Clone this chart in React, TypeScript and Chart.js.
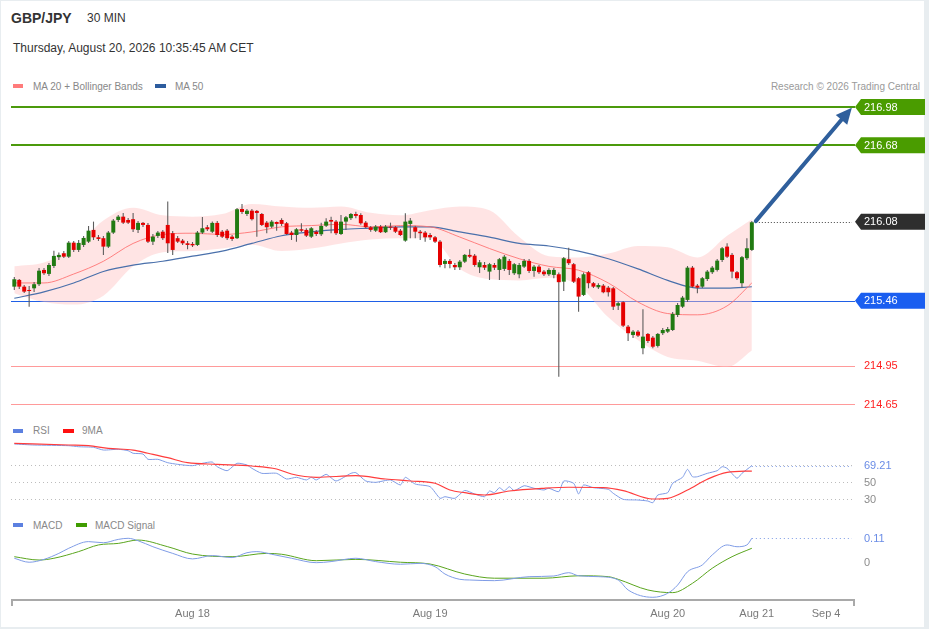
import React, { useEffect, useRef } from "react";
import { Chart, registerables } from "chart.js";

Chart.register(...registerables);

const FONT = '"Liberation Sans", Arial, Helvetica, sans-serif';

// ---------- price candles (30 min) ----------
const candleOpen = [
  215.571, 215.624, 215.571, 215.545, 215.558, 215.59, 215.702, 215.671, 215.733, 215.802,
  215.833, 215.806, 215.916, 215.859, 215.898, 215.924, 216.016, 215.958, 215.951, 215.885,
  215.995, 216.094, 216.12, 216.094, 216.1, 216.016, 216.071, 216.055, 215.924, 215.969,
  216.002, 216.055, 215.99, 215.951, 215.932, 215.911, 215.906, 215.898, 215.995, 216.037,
  216.002, 216.071, 216.002, 216.01, 215.963, 215.951, 216.18, 216.141, 216.167, 216.165,
  216.141, 216.073, 216.042, 216.078, 216.094, 216.068, 215.995, 215.976, 216.021, 216.016,
  215.963, 216.002, 215.982, 216.049, 216.094, 216.081, 215.984, 216.081, 216.108, 216.141,
  216.133, 216.073, 216.037, 216.01, 216.042, 215.998, 216.042, 216.037, 216.01, 215.932,
  216.063, 216.037, 216.002, 215.995, 215.976, 215.958, 215.924, 215.749, 215.773, 215.741,
  215.723, 215.767, 215.82, 215.814, 215.723, 215.741, 215.689, 215.741, 215.702, 215.71,
  215.773, 215.676, 215.668, 215.728, 215.773, 215.694, 215.728, 215.689, 215.668, 215.663,
  215.668, 215.61, 215.786, 215.747, 215.637, 215.506, 215.684, 215.598, 215.566, 215.579,
  215.563, 215.558, 215.422, 215.449, 215.257, 215.192, 215.218, 215.088, 215.2, 215.171,
  215.106, 215.206, 215.218, 215.231, 215.349, 215.414, 215.467, 215.72, 215.579, 215.571,
  215.631, 215.684, 215.702, 215.78, 215.885, 215.82, 215.684, 215.598, 215.794, 215.859,
];
const candleHigh = [
  215.647, 215.631, 215.584, 215.577, 215.608, 215.718, 215.718, 215.757, 215.853, 215.838,
  215.851, 215.929, 215.929, 215.937, 215.969, 216.047, 216.081, 215.976, 215.969, 216.008,
  216.102, 216.133, 216.149, 216.11, 216.149, 216.086, 216.078, 216.071, 215.984, 216.008,
  216.016, 216.238, 216.008, 215.969, 215.945, 215.929, 215.921, 216.008, 216.118, 216.055,
  216.081, 216.086, 216.016, 216.024, 215.976, 216.188, 216.22, 216.18, 216.18, 216.173,
  216.149, 216.086, 216.094, 216.082, 216.108, 216.078, 216.008, 216.031, 216.068, 216.029,
  216.039, 216.016, 216.073, 216.108, 216.12, 216.094, 216.133, 216.126, 216.149, 216.159,
  216.147, 216.086, 216.047, 216.055, 216.055, 216.055, 216.073, 216.047, 216.024, 216.147,
  216.11, 216.049, 216.016, 216.008, 215.992, 215.969, 215.937, 215.788, 215.788, 215.757,
  215.78, 215.827, 215.864, 215.827, 215.78, 215.765, 215.757, 215.757, 215.796, 215.82,
  215.788, 215.757, 215.757, 215.788, 215.788, 215.741, 215.741, 215.702, 215.715, 215.718,
  215.681, 215.804, 215.877, 215.757, 215.647, 215.681, 215.694, 215.608, 215.598, 215.592,
  215.577, 215.569, 215.453, 215.459, 215.27, 215.231, 215.231, 215.394, 215.208, 215.184,
  215.208, 215.247, 215.255, 215.373, 215.443, 215.498, 215.733, 215.733, 215.592, 215.647,
  215.702, 215.733, 215.788, 215.882, 215.911, 215.835, 215.694, 215.812, 215.951, 216.086,
];
const candleLow = [
  215.545, 215.553, 215.522, 215.414, 215.529, 215.577, 215.663, 215.655, 215.718, 215.78,
  215.796, 215.796, 215.843, 215.843, 215.882, 215.914, 215.937, 215.929, 215.82, 215.875,
  215.984, 216.078, 216.063, 216.063, 216.0, 215.992, 216.039, 215.914, 215.898, 215.953,
  215.937, 215.835, 215.82, 215.914, 215.898, 215.864, 215.882, 215.89, 215.984, 216.008,
  215.992, 215.961, 215.953, 215.937, 215.929, 215.945, 216.141, 216.126, 216.089, 215.963,
  216.047, 215.99, 216.031, 216.01, 216.047, 215.976, 215.937, 215.924, 216.0, 215.961,
  215.953, 215.969, 215.969, 216.039, 215.99, 215.976, 215.976, 216.016, 216.094, 216.108,
  216.057, 216.029, 216.002, 216.0, 215.992, 215.992, 216.016, 215.992, 215.969, 215.924,
  215.951, 215.951, 215.937, 215.924, 215.937, 215.914, 215.723, 215.715, 215.715, 215.702,
  215.702, 215.757, 215.796, 215.728, 215.678, 215.702, 215.623, 215.702, 215.623, 215.694,
  215.663, 215.663, 215.637, 215.718, 215.678, 215.649, 215.671, 215.655, 215.655, 215.637,
  214.865, 215.537, 215.741, 215.6, 215.375, 215.498, 215.558, 215.561, 215.553, 215.519,
  215.493, 215.388, 215.388, 215.255, 215.145, 215.169, 215.177, 215.041, 215.129, 215.088,
  215.094, 215.192, 215.208, 215.223, 215.333, 215.404, 215.451, 215.561, 215.519, 215.561,
  215.616, 215.671, 215.689, 215.765, 215.796, 215.637, 215.623, 215.563, 215.78, 215.851,
];
const candleClose = [
  215.629, 215.571, 215.532, 215.537, 215.59, 215.696, 215.676, 215.741, 215.812, 215.82,
  215.806, 215.916, 215.859, 215.914, 215.953, 216.01, 215.958, 215.945, 215.885, 215.995,
  216.089, 216.12, 216.073, 216.073, 216.021, 216.071, 216.055, 215.924, 215.963, 215.995,
  215.951, 215.911, 215.859, 215.924, 215.911, 215.898, 215.895, 215.995, 216.029, 216.021,
  216.071, 215.976, 215.963, 215.951, 215.945, 216.178, 216.157, 216.167, 216.1, 216.149,
  216.055, 216.037, 216.081, 216.063, 216.063, 215.984, 215.976, 216.021, 216.01, 215.971,
  216.029, 215.984, 216.047, 216.081, 216.081, 215.99, 216.081, 216.115, 216.141, 216.126,
  216.068, 216.037, 216.016, 216.042, 215.998, 216.042, 216.034, 216.002, 215.976, 216.081,
  216.089, 216.002, 215.99, 215.958, 215.958, 215.924, 215.741, 215.773, 215.749, 215.723,
  215.767, 215.82, 215.806, 215.741, 215.762, 215.72, 215.747, 215.72, 215.786, 215.806,
  215.702, 215.747, 215.741, 215.773, 215.694, 215.728, 215.684, 215.668, 215.702, 215.702,
  215.606, 215.794, 215.755, 215.61, 215.493, 215.668, 215.598, 215.571, 215.584, 215.527,
  215.527, 215.414, 215.441, 215.265, 215.206, 215.218, 215.187, 215.179, 215.145, 215.1,
  215.2, 215.231, 215.239, 215.357, 215.427, 215.485, 215.72, 215.571, 215.563, 215.637,
  215.689, 215.72, 215.775, 215.872, 215.806, 215.689, 215.637, 215.802, 215.872, 216.076,
];

// ---------- overlays (MA 20 + Bollinger, MA 50) ----------
const overlayIdx = [0, 6, 12, 18, 24, 30, 36, 42, 48, 54, 60, 66, 72, 78, 84, 90, 96, 102, 108, 114, 120, 126, 132, 138, 144, 149];
const ma20 = [215.6, 215.6, 215.67, 215.77, 215.91, 215.98, 215.99, 215.98, 216.0, 216.04, 216.05, 216.06, 216.04, 216.05, 216.04, 215.96, 215.87, 215.79, 215.73, 215.7, 215.6, 215.45, 215.36, 215.35, 215.42, 215.6];
const ma50 = [215.48, 215.53, 215.6, 215.69, 215.74, 215.77, 215.81, 215.85, 215.91, 215.97, 216.0, 216.02, 216.03, 216.04, 216.04, 216.0, 215.96, 215.91, 215.89, 215.85, 215.79, 215.71, 215.62, 215.56, 215.56, 215.57];
const bbUpper = [215.73, 215.76, 215.87, 216.09, 216.19, 216.13, 216.12, 216.14, 216.22, 216.2, 216.19, 216.2, 216.15, 216.13, 216.17, 216.2, 216.17, 215.96, 215.81, 215.8, 215.83, 215.89, 215.88, 215.8, 215.97, 216.1];
const bbLower = [215.52, 215.45, 215.43, 215.5, 215.73, 215.84, 215.85, 215.87, 215.9, 215.85, 215.87, 215.91, 215.94, 215.95, 215.95, 215.71, 215.63, 215.62, 215.64, 215.58, 215.33, 215.15, 215.02, 214.99, 214.94, 215.07];

// ---------- levels ----------
const resistanceLevels = [216.98, 216.68];
const pivotLevel = 215.46;
const supportLevels = [214.95, 214.65];
const lastPrice = 216.08;
const arrowFrom = [149.8, 216.085];
const arrowTo = [169.2, 216.975];

// ---------- RSI ----------
const rsiIdx = [0, 4, 11, 13, 16, 18, 21, 23, 24, 26, 27, 29, 31, 33, 36, 38, 40, 41, 43, 45, 47, 48, 50, 53, 55, 57, 59, 60, 61, 63, 65, 68, 69, 71, 73, 76, 78, 79, 81, 84, 86, 87, 89, 91, 93, 95, 96, 97, 98, 99, 100, 101, 103, 105, 107, 108, 110, 111, 113, 114, 115, 117, 120, 121, 123, 126, 128, 129, 130, 132, 133, 135, 136, 137, 138, 140, 142, 143, 144, 146, 147, 149];
const rsiVals = [94.7, 93.5, 92.7, 91.5, 90.8, 87.6, 88.5, 86.8, 83.8, 82.9, 76.7, 76.7, 72.7, 70.8, 69.2, 72, 73.5, 68, 63.3, 72, 70, 66.1, 60.2, 60.2, 53.5, 55.5, 52.4, 55.5, 52.4, 59, 51.2, 60.2, 61, 51.2, 49.6, 52.4, 46.5, 55.5, 47.6, 44.5, 30.8, 32.7, 30.8, 40, 35.9, 32.7, 39.4, 37.4, 43.3, 39.4, 44.5, 39.8, 45.6, 42.6, 40.6, 42.6, 38.6, 51.2, 48.5, 35.9, 46.5, 43.3, 41.4, 36.7, 29.6, 28.8, 27.6, 25.6, 34.7, 37.4, 48.5, 55.5, 64.9, 56.2, 56.2, 60.2, 63.3, 68, 66.1, 54.4, 60.2, 69.21];
const rsiMaIdx = [0, 11, 15, 19, 24, 27, 31, 35, 41, 48, 53, 56, 61, 69, 75, 80, 85, 88, 91, 95, 100, 107, 112, 119, 123, 129, 132, 136, 140, 144, 149];
const rsiMaVals = [95.5, 93.5, 92.7, 89.6, 87.6, 83.8, 78.6, 72.7, 70.8, 68.8, 65.3, 59.4, 55.5, 57.4, 53.5, 51.2, 48.5, 40.6, 37.4, 34.7, 39.4, 42.6, 43.8, 43.3, 39.8, 30, 30.8, 40.6, 53.2, 61.4, 62.9];
const rsiGuides = [30, 50, 70];
const rsiAxisLabels = [50, 30];

// ---------- MACD ----------
const macdIdx = [0, 3, 6, 9, 11, 15, 18, 21, 23, 25, 28, 32, 36, 40, 44, 47, 49, 52, 56, 61, 64, 69, 73, 78, 82, 85, 87, 90, 92, 97, 104, 109, 112, 114, 118, 122, 124, 129, 132, 134, 136, 139, 141, 144, 146, 148, 149];
const macdVals = [0.02, 0.002, 0.015, 0.042, 0.065, 0.095, 0.09, 0.105, 0.11, 0.099, 0.072, 0.042, 0.017, 0.032, 0.023, 0.045, 0.05, 0.038, 0.02, 0, 0.005, 0.02, 0.005, -0.007, -0.003, -0.018, -0.051, -0.075, -0.078, -0.081, -0.063, -0.06, -0.045, -0.059, -0.063, -0.078, -0.123, -0.156, -0.138, -0.101, -0.041, -0.01, 0.035, 0.08, 0.072, 0.08, 0.11];
const signalIdx = [0, 5, 8, 13, 17, 21, 25, 31, 36, 44, 51, 54, 61, 69, 78, 84, 91, 97, 107, 114, 120, 122, 128, 133, 137, 141, 145, 149];
const signalVals = [0.027, 0.012, 0.02, 0.05, 0.08, 0.087, 0.102, 0.072, 0.039, 0.027, 0.042, 0.038, 0.009, 0.015, 0.002, -0.006, -0.051, -0.07, -0.07, -0.059, -0.063, -0.075, -0.123, -0.135, -0.093, -0.025, 0.027, 0.065];
const macdAxisLabels = [0];

// ---------- time axis ----------
const xTickIdx = [36, 84, 132, 150, 164];
const xTickLabels = ["Aug 18", "Aug 19", "Aug 20", "Aug 21", "Sep 4"];

// ---------- layout ----------
const W = 929;
const PAD_L = 11;
const PAD_R = 74;
const X_MIN = -0.667;
const X_MAX = 169.84;

const pts = (xs: number[], ys: number[]) => xs.map((x, i) => ({ x, y: ys[i] }));

function commonOptions(yMin: number, yMax: number, padBottom = 0): any {
  return {
    responsive: false,
    animation: false,
    events: [],
    layout: { padding: { left: PAD_L, right: PAD_R, top: 0, bottom: padBottom } },
    plugins: { legend: { display: false }, tooltip: { enabled: false } },
    scales: {
      x: { type: "linear", min: X_MIN, max: X_MAX, display: false, offset: false },
      y: { type: "linear", min: yMin, max: yMax, display: false },
    },
  };
}

function hLine(ctx: CanvasRenderingContext2D, x0: number, x1: number, y: number, color: string, width: number, dash: number[] = []) {
  ctx.save();
  ctx.strokeStyle = color;
  ctx.lineWidth = width;
  ctx.setLineDash(dash);
  const yy = width % 2 === 1 ? Math.round(y) + 0.5 : Math.round(y);
  ctx.beginPath();
  ctx.moveTo(x0, yy);
  ctx.lineTo(x1, yy);
  ctx.stroke();
  ctx.restore();
}

function drawTag(ctx: CanvasRenderingContext2D, left: number, yc: number, fill: string, text: string) {
  const h = 16;
  const w = 70;
  ctx.save();
  ctx.beginPath();
  ctx.moveTo(left, yc);
  ctx.lineTo(left + 6, yc - h / 2);
  ctx.lineTo(left + w, yc - h / 2);
  ctx.lineTo(left + w, yc + h / 2);
  ctx.lineTo(left + 6, yc + h / 2);
  ctx.closePath();
  ctx.fillStyle = fill;
  ctx.fill();
  ctx.fillStyle = "#ffffff";
  ctx.font = `11px ${FONT}`;
  ctx.textAlign = "left";
  ctx.textBaseline = "middle";
  ctx.fillText(text, left + 9, yc + 0.5);
  ctx.restore();
}

function sideText(ctx: CanvasRenderingContext2D, x: number, y: number, color: string, text: string) {
  ctx.save();
  ctx.fillStyle = color;
  ctx.font = `11px ${FONT}`;
  ctx.textAlign = "left";
  ctx.textBaseline = "middle";
  ctx.fillText(text, x, y + 0.5);
  ctx.restore();
}

const GREEN_C = "#217a12";
const RED_C = "#e50000";

function Txt(props: { x: number; y: number; size?: number; color?: string; weight?: number; right?: boolean; children: any }) {
  const size = props.size ?? 10;
  const style: any = {
    position: "absolute",
    top: props.y - size,
    height: size * 2,
    lineHeight: `${size * 2}px`,
    fontSize: size,
    color: props.color ?? "#888",
    fontWeight: props.weight ?? 400,
    fontFamily: FONT,
    whiteSpace: "nowrap",
  };
  if (props.right) style.right = W - props.x;
  else style.left = props.x;
  return <div style={style}>{props.children}</div>;
}

function Swatch(props: { x: number; y: number; w: number; color: string }) {
  return <div style={{ position: "absolute", left: props.x, top: props.y - 2, width: props.w, height: 4, background: props.color }} />;
}

export default function App() {
  const mainRef = useRef<HTMLCanvasElement>(null);
  const rsiRef = useRef<HTMLCanvasElement>(null);
  const macdRef = useRef<HTMLCanvasElement>(null);

  useEffect(() => {
    const charts: Chart[] = [];

    // ---------------- main price chart ----------------
    const mainDecor = {
      id: "mainDecor",
      beforeDatasetsDraw(chart: any) {
        const { ctx, chartArea, scales } = chart;
        const y = scales.y;
        supportLevels.forEach((v) => hLine(ctx, chartArea.left, chartArea.right, y.getPixelForValue(v), "#ff9a9a", 1));
        hLine(ctx, chartArea.left, chartArea.right, y.getPixelForValue(pivotLevel), "#1f5fe6", 1);
        resistanceLevels.forEach((v) => hLine(ctx, chartArea.left, chartArea.right, y.getPixelForValue(v), "#4b9a0c", 2));
      },
      afterDatasetsDraw(chart: any) {
        const { ctx, chartArea, scales } = chart;
        const x = scales.x;
        const y = scales.y;
        const right = chartArea.right;
        const lastX = x.getPixelForValue(candleClose.length - 1) + 4;
        hLine(ctx, lastX, right - 3, y.getPixelForValue(lastPrice), "#444", 1, [1, 2]);
        const ax0 = x.getPixelForValue(arrowFrom[0]);
        const ay0 = y.getPixelForValue(arrowFrom[1]);
        const ax1 = x.getPixelForValue(arrowTo[0]);
        const ay1 = y.getPixelForValue(arrowTo[1]);
        const ang = Math.atan2(ay1 - ay0, ax1 - ax0);
        const headLen = 16;
        const headW = 7.5;
        const bx = ax1 - headLen * Math.cos(ang);
        const by = ay1 - headLen * Math.sin(ang);
        ctx.save();
        ctx.strokeStyle = "#2f5f9c";
        ctx.fillStyle = "#2f5f9c";
        ctx.lineWidth = 4;
        ctx.lineCap = "round";
        ctx.beginPath();
        ctx.moveTo(ax0, ay0);
        ctx.lineTo(bx + 2 * Math.cos(ang), by + 2 * Math.sin(ang));
        ctx.stroke();
        ctx.beginPath();
        ctx.moveTo(ax1, ay1);
        ctx.lineTo(bx - headW * Math.sin(ang), by + headW * Math.cos(ang));
        ctx.lineTo(bx + headW * Math.sin(ang), by - headW * Math.cos(ang));
        ctx.closePath();
        ctx.fill();
        ctx.restore();
        resistanceLevels.forEach((v) => drawTag(ctx, right, y.getPixelForValue(v), "#4a9c00", v.toFixed(2)));
        drawTag(ctx, right, y.getPixelForValue(lastPrice), "#2e2e2e", lastPrice.toFixed(2));
        drawTag(ctx, right, y.getPixelForValue(pivotLevel), "#1a5ef0", pivotLevel.toFixed(2));
        supportLevels.forEach((v) => sideText(ctx, right + 9, y.getPixelForValue(v), "#ff1f1f", v.toFixed(2)));
      },
    };

    charts.push(
      new Chart(mainRef.current as HTMLCanvasElement, {
        type: "line",
        data: {
          datasets: [
            {
              type: "bar",
              data: candleOpen.map((o, i) => ({ x: i, y: [o, candleClose[i]] })) as any,
              backgroundColor: candleOpen.map((o, i) => (candleClose[i] >= o ? GREEN_C : RED_C)),
              borderWidth: 0,
              grouped: false,
              barPercentage: 0.8,
              categoryPercentage: 1,
              minBarLength: 1,
              order: 0,
            } as any,
            {
              type: "bar",
              data: candleLow.map((l, i) => ({ x: i, y: [l, candleHigh[i]] })) as any,
              backgroundColor: "#5c5c5c",
              borderWidth: 0,
              grouped: false,
              barPercentage: 0.22,
              categoryPercentage: 1,
              order: 1,
            } as any,
            {
              type: "line",
              data: pts(overlayIdx, ma20),
              borderColor: "rgba(255,110,110,0.85)",
              borderWidth: 1,
              pointRadius: 0,
              tension: 0.4,
              cubicInterpolationMode: "monotone",
              order: 2,
            } as any,
            {
              type: "line",
              data: pts(overlayIdx, ma50),
              borderColor: "#4a70ab",
              borderWidth: 1.2,
              pointRadius: 0,
              tension: 0.4,
              cubicInterpolationMode: "monotone",
              order: 3,
            } as any,
            {
              type: "line",
              data: pts(overlayIdx, bbUpper),
              borderWidth: 0,
              borderColor: "rgba(0,0,0,0)",
              backgroundColor: "rgba(255,190,190,0.42)",
              fill: "+1",
              pointRadius: 0,
              tension: 0.4,
              cubicInterpolationMode: "monotone",
              order: 4,
            } as any,
            {
              type: "line",
              data: pts(overlayIdx, bbLower),
              borderWidth: 0,
              borderColor: "rgba(0,0,0,0)",
              pointRadius: 0,
              tension: 0.4,
              cubicInterpolationMode: "monotone",
              order: 5,
            } as any,
          ],
        },
        options: commonOptions(214.5643, 217.0741),
        plugins: [mainDecor],
      })
    );

    // ---------------- RSI ----------------
    const rsiDecor = {
      id: "rsiDecor",
      beforeDatasetsDraw(chart: any) {
        const { ctx, chartArea, scales } = chart;
        rsiGuides.forEach((v) => hLine(ctx, chartArea.left, chartArea.right - 3, scales.y.getPixelForValue(v), "#bdbdbd", 1, [1, 3]));
      },
      afterDatasetsDraw(chart: any) {
        const { ctx, chartArea, scales } = chart;
        const last = rsiVals[rsiVals.length - 1];
        const lx = scales.x.getPixelForValue(rsiIdx[rsiIdx.length - 1]);
        hLine(ctx, lx, chartArea.right - 3, scales.y.getPixelForValue(last), "#7d9be6", 1, [1, 3]);
        rsiAxisLabels.forEach((v) => sideText(ctx, chartArea.right + 9, scales.y.getPixelForValue(v), "#8c8c8c", String(v)));
        sideText(ctx, chartArea.right + 9, scales.y.getPixelForValue(last), "#6a8ce6", last.toFixed(2));
      },
    };
    charts.push(
      new Chart(rsiRef.current as HTMLCanvasElement, {
        type: "line",
        data: {
          datasets: [
            { data: pts(rsiMaIdx, rsiMaVals), borderColor: "#ff3c3c", borderWidth: 1.2, pointRadius: 0, tension: 0.4, cubicInterpolationMode: "monotone", order: 0 } as any,
            { data: pts(rsiIdx, rsiVals), borderColor: "#7f9ce6", borderWidth: 1, pointRadius: 0, tension: 0.2, order: 1 } as any,
          ],
        },
        options: commonOptions(17.06, 102.94),
        plugins: [rsiDecor],
      })
    );

    // ---------------- MACD + time axis ----------------
    const macdDecor = {
      id: "macdDecor",
      afterDatasetsDraw(chart: any) {
        const { ctx, chartArea, scales } = chart;
        const last = macdVals[macdVals.length - 1];
        const lx = scales.x.getPixelForValue(macdIdx[macdIdx.length - 1]);
        hLine(ctx, lx, chartArea.right - 3, scales.y.getPixelForValue(last), "#7d9be6", 1, [1, 3]);
        sideText(ctx, chartArea.right + 9, scales.y.getPixelForValue(last), "#6a8ce6", last.toFixed(2));
        macdAxisLabels.forEach((v) => sideText(ctx, chartArea.right + 9, scales.y.getPixelForValue(v), "#8c8c8c", String(v)));
        const yb = chartArea.bottom;
        ctx.save();
        ctx.strokeStyle = "#a9a9a9";
        ctx.lineWidth = 2;
        ctx.beginPath();
        ctx.moveTo(chartArea.left + 1, yb + 6);
        ctx.lineTo(chartArea.left + 1, yb);
        ctx.lineTo(chartArea.right - 1, yb);
        ctx.lineTo(chartArea.right - 1, yb + 6);
        ctx.stroke();
        ctx.fillStyle = "#7a7a7a";
        ctx.font = `11px ${FONT}`;
        ctx.textAlign = "center";
        ctx.textBaseline = "middle";
        xTickIdx.forEach((v, i) => ctx.fillText(xTickLabels[i], scales.x.getPixelForValue(v), yb + 13.5));
        ctx.restore();
      },
    };
    charts.push(
      new Chart(macdRef.current as HTMLCanvasElement, {
        type: "line",
        data: {
          datasets: [
            { data: pts(macdIdx, macdVals), borderColor: "#7f9ce6", borderWidth: 1, pointRadius: 0, tension: 0.4, cubicInterpolationMode: "monotone", order: 0 } as any,
            { data: pts(signalIdx, signalVals), borderColor: "#5aa51e", borderWidth: 1, pointRadius: 0, tension: 0.4, cubicInterpolationMode: "monotone", order: 1 } as any,
          ],
        },
        options: commonOptions(-0.1682, 0.1564, 29),
        plugins: [macdDecor],
      })
    );

    return () => charts.forEach((c) => c.destroy());
  }, []);

  return (
    <div style={{ position: "fixed", left: 0, top: 0, width: W, height: 629, background: "#e8edf0", overflow: "hidden" }}>
      <div style={{ position: "absolute", left: 1, top: 1, width: 923, height: 626, background: "#ffffff" }} />
      <Txt x={11} y={18} size={14} weight={700} color="#333">GBP/JPY</Txt>
      <Txt x={87} y={18} size={12} color="#333">30 MIN</Txt>
      <Txt x={13} y={48} size={12} color="#333">Thursday, August 20, 2026 10:35:45 AM CET</Txt>

      <Swatch x={13} y={86} w={10} color="#ff7b7b" />
      <Txt x={33} y={87}>MA 20 + Bollinger Bands</Txt>
      <Swatch x={155} y={86} w={11} color="#2d5c9e" />
      <Txt x={175} y={87}>MA 50</Txt>
      <Txt x={920} y={87} color="#9a9a9a" right>Research © 2026 Trading Central</Txt>

      <Swatch x={13} y={431} w={10} color="#5c80e0" />
      <Txt x={33} y={431}>RSI</Txt>
      <Swatch x={63} y={431} w={11} color="#ff1010" />
      <Txt x={82} y={431}>9MA</Txt>

      <Swatch x={13} y={525} w={10} color="#5c80e0" />
      <Txt x={33} y={526}>MACD</Txt>
      <Swatch x={76} y={525} w={11} color="#3f9c00" />
      <Txt x={95} y={526}>MACD Signal</Txt>

      <canvas ref={mainRef} width={W} height={320} style={{ position: "absolute", left: 0, top: 95, width: W, height: 320 }} />
      <canvas ref={rsiRef} width={W} height={73} style={{ position: "absolute", left: 0, top: 437, width: W, height: 73 }} />
      <canvas ref={macdRef} width={W} height={101} style={{ position: "absolute", left: 0, top: 528, width: W, height: 101 }} />
    </div>
  );
}
